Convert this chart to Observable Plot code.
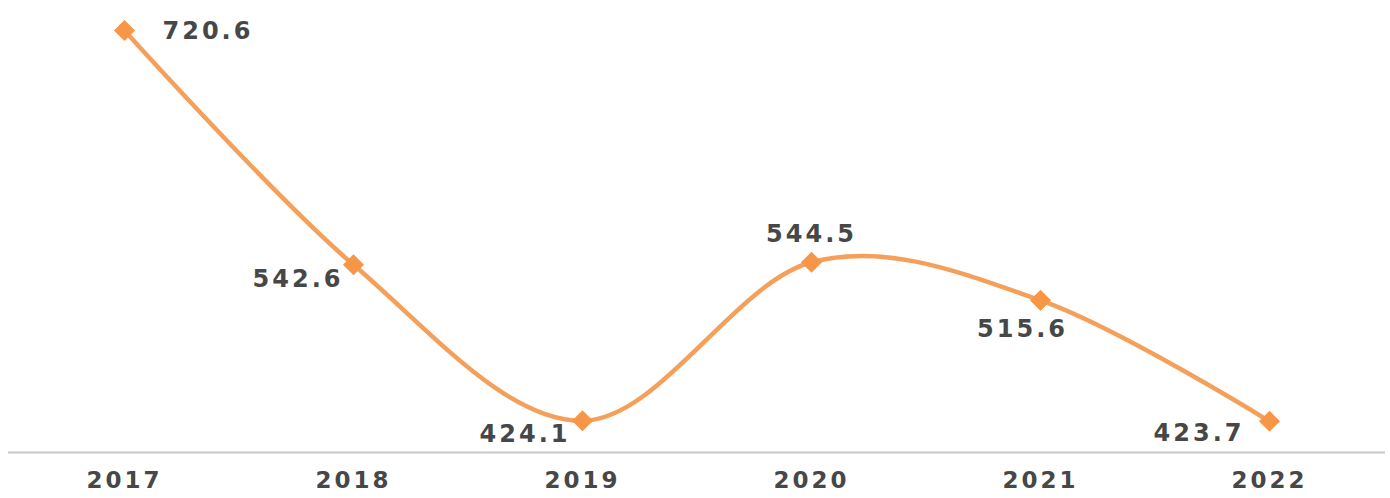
<!DOCTYPE html>
<html>
<head>
<meta charset="utf-8">
<script src="https://cdn.jsdelivr.net/npm/d3@7"></script>
<script src="https://cdn.jsdelivr.net/npm/@observablehq/plot@0.6"></script>
<style>
  html, body { margin: 0; padding: 0; background: #fff; }
  #chart svg { display: block; }
</style>
</head>
<body>
<div id="chart"></div>
<script>
const years = ["2017", "2018", "2019", "2020", "2021", "2022"];
const values = [720.6, 542.6, 424.1, 544.5, 515.6, 423.7];
const valueLabels = ["720.6", "542.6", "424.1", "544.5", "515.6", "423.7"];

const data = years.map((year, i) => ({year, value: values[i], label: valueLabels[i]}));

// label placement relative to each point (style, not data)
const placement = {
  "2017": {textAnchor: "start", dx: 38, dy: 1},
  "2018": {textAnchor: "end", dx: -10, dy: 15},
  "2019": {textAnchor: "end", dx: -12, dy: 14},
  "2020": {textAnchor: "middle", dx: 0, dy: -28},
  "2021": {textAnchor: "middle", dx: -18, dy: 29},
  "2022": {textAnchor: "end", dx: -25, dy: 12}
};

const labelMarks = data.map(d => Plot.text([d], {
  x: "year", y: "value", text: "label",
  textAnchor: placement[d.year].textAnchor,
  dx: placement[d.year].dx,
  dy: placement[d.year].dy,
  fontFamily: "DejaVu Sans",
  fontWeight: "bold",
  fontSize: 24,
  fill: "#474747"
}));

const chart = Plot.plot({
  width: 1390,
  height: 498,
  marginLeft: 8,
  marginRight: 5,
  marginTop: 30,
  marginBottom: 46,
  x: {type: "point", domain: years, padding: 0.5, label: null},
  y: {domain: [400, 720.6], axis: null},
  marks: [
    Plot.ruleY([400], {stroke: "#c8c8c8", strokeWidth: 2}),
    Plot.axisX({tickSize: 0, tickPadding: 19, fontSize: 23, fontFamily: "DejaVu Sans", fontWeight: "bold", fill: "#474747", label: null}),
    Plot.line(data, {x: "year", y: "value", stroke: "#F5A05A", strokeWidth: 4.5, curve: "cardinal"}),
    Plot.dot(data, {x: "year", y: "value", symbol: "diamond2", r: 9.5, fill: "#F79646", stroke: "none"}),
    ...labelMarks
  ]
});

d3.select(chart).selectAll("text").style("letter-spacing", "3px");
document.getElementById("chart").appendChild(chart);
</script>
</body>
</html>
